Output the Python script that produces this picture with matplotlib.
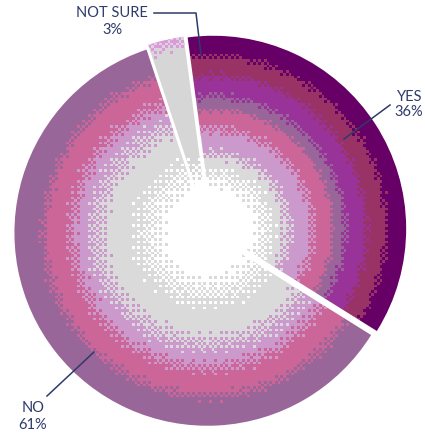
import numpy as np
import matplotlib
matplotlib.use("Agg")
import matplotlib.pyplot as plt
from matplotlib.colors import to_rgb

# Survey answers, drawn counter-clockwise from the start angle
labels = ["YES", "NOT SURE", "NO"]
shares = [36, 3, 61]
pct_text = ["36%", "3%", "61%"]

W, H = 425, 433
TEXT = "#2e3a6a"

# radial colour ramps (t = distance / radius, colour) for each slice
RAMPS = {
    "YES": [(0.00, "#ffffff"), (0.20, "#ffffff"), (0.34, "#dadada"),
            (0.43, "#cc99cc"), (0.48, "#cc99cc"), (0.55, "#cc6699"), (0.60, "#cc6699"),
            (0.64, "#996699"), (0.66, "#996699"), (0.71, "#993399"), (0.77, "#993399"),
            (0.82, "#993366"), (0.87, "#993366"), (0.92, "#660066"), (1.05, "#660066")],
    "NOT SURE": [(0.00, "#ffffff"), (0.22, "#ffffff"), (0.38, "#d6d6d6"), (0.92, "#d6d6d6"),
                 (1.02, "#dd99dd"), (1.05, "#dd99dd")],
    "NO": [(0.00, "#ffffff"), (0.20, "#ffffff"), (0.42, "#dadada"), (0.50, "#dadada"),
           (0.65, "#cc99cc"), (0.75, "#cc6699"), (0.81, "#cc6699"),
           (0.88, "#996699"), (1.05, "#996699")],
}

BAYER = np.array([[0, 8, 2, 10],
                  [12, 4, 14, 6],
                  [3, 11, 1, 9],
                  [15, 7, 13, 5]], dtype=float)
BAYER = (BAYER + 0.5) / 16.0

CELL = 2.75
nx, ny = int(np.ceil(W / CELL)), int(np.ceil(H / CELL))
xs = (np.arange(nx) + 0.5) * CELL
ys = (np.arange(ny) + 0.5) * CELL
GX, GY = np.meshgrid(xs, ys)
THR = BAYER[np.arange(ny)[:, None] % 4, np.arange(nx)[None, :] % 4]


def dithered(cx, cy, r, ramp):
    t = np.hypot(GX - cx, GY - cy) / r
    pos = np.array([p for p, _ in ramp])
    cols = np.array([to_rgb(c) for _, c in ramp])
    i = np.clip(np.searchsorted(pos, t, side="right") - 1, 0, len(pos) - 2)
    f = (t - pos[i]) / np.maximum(pos[i + 1] - pos[i], 1e-9)
    pick = np.where(f > THR, i + 1, i)
    return cols[pick]


fig = plt.figure(figsize=(W / 100, H / 100), dpi=100)
ax = fig.add_axes([0, 0, 1, 1])

# explode offsets are in pixels here (the axes use pixel units)
wedges, _ = ax.pie(shares, startangle=-32, counterclock=True,
                   center=(209.8, H - 230.9), radius=193,
                   explode=[4.0, 3.0, 3.0], frame=True,
                   wedgeprops=dict(linewidth=0))
ax.set_xlim(0, W)
ax.set_ylim(0, H)
ax.set_aspect("equal")
ax.axis("off")

for w, lab in zip(wedges, labels):
    w.set_facecolor("none")
    cx, cy = w.center
    img = dithered(cx, cy, w.r, RAMPS[lab])
    im = ax.imshow(img, extent=[0, nx * CELL, 0, ny * CELL], origin="lower",
                   interpolation="nearest", zorder=1)
    im.set_clip_path(w)


def Y(y):
    return H - y


# leader lines
ax.plot([154, 196, 201], [Y(13), Y(13), Y(55)], color=TEXT, lw=1.1, zorder=3)
ax.plot([390, 344], [Y(105), Y(139)], color=TEXT, lw=1.1, zorder=3)
ax.plot([47, 94], [Y(396), Y(352)], color=TEXT, lw=1.1, zorder=3)

font = dict(family="Lato", fontsize=10.5, color=TEXT)
ax.text(112, Y(13), labels[1], ha="center", va="center", **font)
ax.text(112, Y(30), pct_text[1], ha="center", va="center", **font)
ax.text(410, Y(97), labels[0], ha="center", va="center", **font)
ax.text(409, Y(112), pct_text[0], ha="center", va="center", **font)
ax.text(33, Y(408), labels[2], ha="center", va="center", **font)
ax.text(33, Y(425), pct_text[2], ha="center", va="center", **font)

fig.savefig("out.png", dpi=100)
